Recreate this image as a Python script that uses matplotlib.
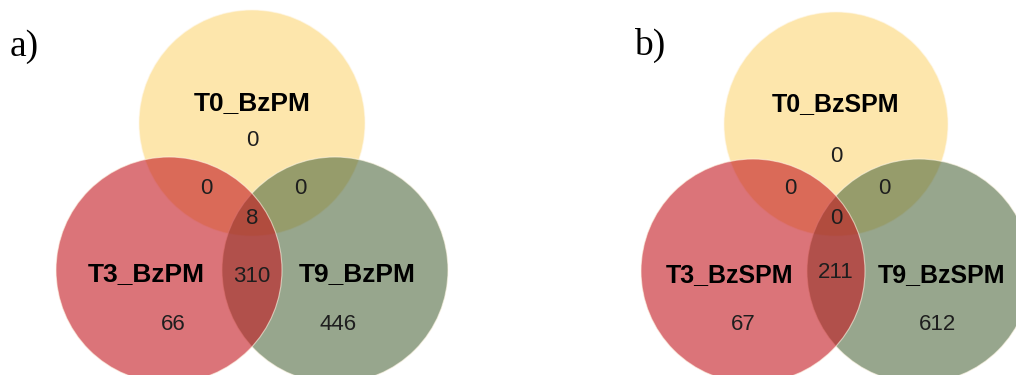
import matplotlib
matplotlib.use("Agg")
import matplotlib.pyplot as plt
from matplotlib.patches import Circle

# ---- data -------------------------------------------------------------
panel_tags = ["a)", "b)"]
set_names_a = ["T0_BzPM", "T3_BzPM", "T9_BzPM"]
set_names_b = ["T0_BzSPM", "T3_BzSPM", "T9_BzSPM"]
# region order: T0 only, T0&T3, T0&T9, all three, T3&T9, T3 only, T9 only
counts_a = [0, 0, 0, 8, 310, 66, 446]
counts_b = [0, 0, 0, 0, 211, 67, 612]

# ---- style ------------------------------------------------------------
YELLOW = (0.99, 0.84, 0.46)
GREEN = (0.32, 0.42, 0.255)
RED = (0.77, 0.09, 0.125)
ALPHA = 0.6

plt.rcParams["font.family"] = ["Liberation Sans", "DejaVu Sans"]

fig = plt.figure(figsize=(10.16, 3.75), dpi=100)
ax = fig.add_axes([0, 0, 1, 1])
ax.set_xlim(0, 1016)
ax.set_ylim(375, 0)
ax.set_aspect("equal")
ax.axis("off")


def venn(cx, top_cy, dx, r, names, counts, tag, tag_xy, label_size):
    bot_cy = top_cy + 147
    # draw order: yellow, green, red on top
    for (x, y), col in [((cx, top_cy), YELLOW), ((cx + dx, bot_cy), GREEN),
                        ((cx - dx, bot_cy), RED)]:
        ax.add_patch(Circle((x, y), r, facecolor=col, alpha=ALPHA,
                            edgecolor="none"))
        ax.add_patch(Circle((x, y), r, facecolor="none",
                            edgecolor=(1, 0.97, 0.9), lw=0.8, alpha=0.6))

    ax.text(cx, top_cy - 20, names[0], ha="center", va="center",
            fontsize=label_size, fontweight="bold")
    ax.text(cx - 106, bot_cy + 4, names[1], ha="center", va="center",
            fontsize=label_size, fontweight="bold")
    ax.text(cx + 105, bot_cy + 4, names[2], ha="center", va="center",
            fontsize=label_size, fontweight="bold")

    pos = [(cx, top_cy + 17 + (15 if tag == "b)" else 0)),
           (cx - 46, 188), (cx + 48, 188),
           (cx, 219), (cx, top_cy + 153 - (5 if tag == "b)" else 0)),
           (cx - 79 - (14 if tag == "b)" else 0), 325),
           (cx + 86 + (16 if tag == "b)" else 0), 325)]
    for (x, y), c in zip(pos, counts):
        ax.text(x, y, str(c), ha="center", va="center", fontsize=16,
                color="#1e1e1e")

    ax.text(tag_xy[0], tag_xy[1], tag, ha="left", va="center",
            fontsize=27, family=["Liberation Serif", "DejaVu Serif"])


venn(252, 123, 83, 113, set_names_a, counts_a, panel_tags[0], (10, 47), 19)
venn(836, 124, 83, 112, set_names_b, counts_b, panel_tags[1], (634, 45), 18)

fig.savefig("out.png", dpi=100)
